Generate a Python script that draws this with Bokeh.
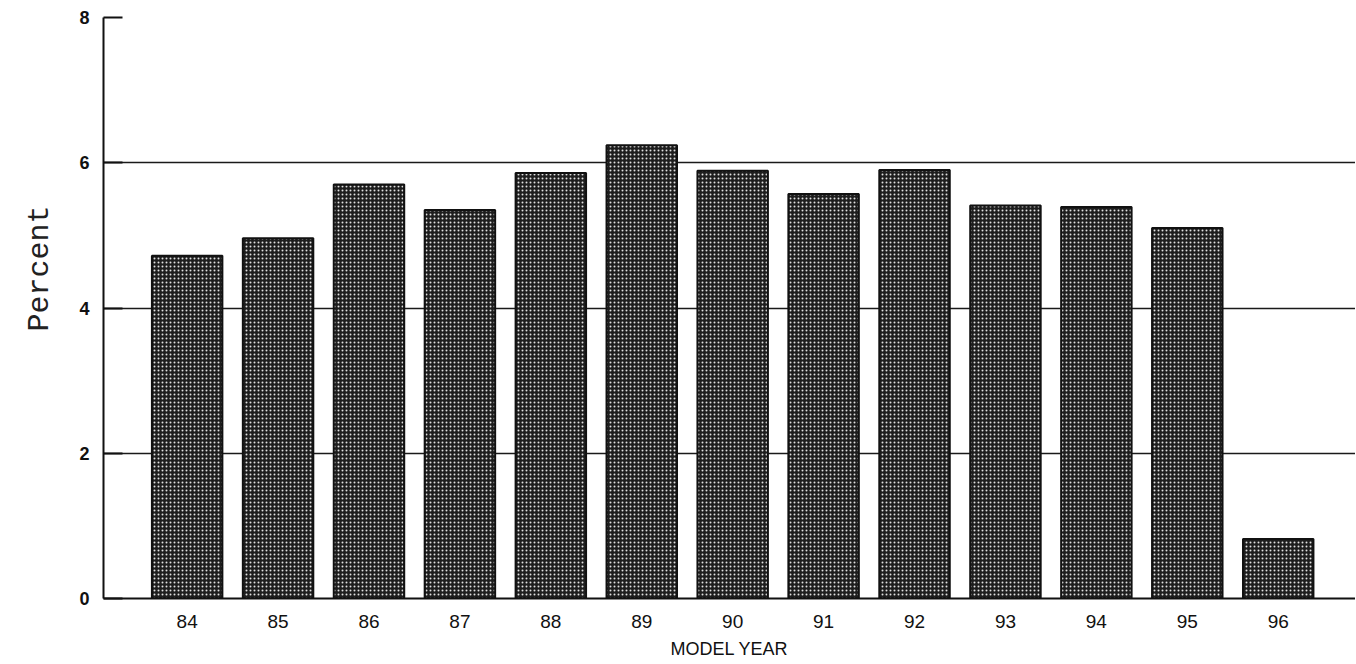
import math
from bokeh.plotting import figure
from bokeh.models import Range1d, FixedTicker, ColumnDataSource, Title
from bokeh.embed import file_html
from bokeh.resources import INLINE

# ---- data ----
model_years = ["84", "85", "86", "87", "88", "89", "90", "91", "92", "93", "94", "95", "96"]
percent = [4.72, 4.96, 5.70, 5.35, 5.86, 6.24, 5.89, 5.57, 5.90, 5.41, 5.39, 5.10, 0.82]
y_ticks = [0, 2, 4, 6, 8]
x_title = "MODEL YEAR"
y_title = "Percent"

x_pos = [int(v) for v in model_years]
src = ColumnDataSource(dict(x=x_pos, top=percent, label=model_years))

p = figure(width=1355, height=663, output_backend="svg", toolbar_location=None,
           x_range=Range1d(83.08, 96.85), y_range=Range1d(0, 8.0),
           min_border_left=103, min_border_right=0, min_border_top=17, min_border_bottom=65)

p.background_fill_color = "white"
p.border_fill_color = "white"
p.outline_line_color = None

p.vbar(x="x", top="top", bottom=0, width=0.775, source=src,
       fill_color="#1e1e1e", line_color="#111111", line_width=2,
       hatch_pattern="dot", hatch_color="#e0e0e0", hatch_scale=4, hatch_weight=1.6)

# x axis
p.xaxis.ticker = FixedTicker(ticks=x_pos)
p.xaxis.major_label_overrides = {x: lab for x, lab in zip(x_pos, model_years)}
p.xaxis.major_tick_in = 0
p.xaxis.major_tick_out = 0
p.xaxis.minor_tick_in = 0
p.xaxis.minor_tick_out = 0
p.xaxis.axis_line_color = "#111111"
p.xaxis.axis_line_width = 2
p.xaxis.major_label_text_font = "Liberation Sans"
p.xaxis.major_label_text_font_size = "19px"
p.xaxis.major_label_text_color = "#111111"
p.xaxis.major_label_standoff = 16
p.xaxis.axis_label = x_title
p.xaxis.axis_label_text_font = "Liberation Sans"
p.xaxis.axis_label_text_font_size = "18px"
p.xaxis.axis_label_text_font_style = "normal"
p.xaxis.axis_label_text_color = "#111111"
p.xaxis.axis_label_standoff = 8

# y axis
p.yaxis.ticker = FixedTicker(ticks=y_ticks)
p.yaxis.major_tick_in = 19
p.yaxis.major_tick_out = 0
p.yaxis.major_tick_line_width = 2
p.yaxis.major_tick_line_color = "#111111"
p.yaxis.minor_tick_in = 0
p.yaxis.minor_tick_out = 0
p.yaxis.axis_line_color = "#111111"
p.yaxis.axis_line_width = 2
p.yaxis.major_label_text_font = "Liberation Sans"
p.yaxis.major_label_text_font_size = "18px"
p.yaxis.major_label_text_font_style = "bold"
p.yaxis.major_label_text_color = "#111111"
p.yaxis.major_label_standoff = 14

# grid
p.xgrid.grid_line_color = None
p.ygrid.ticker = FixedTicker(ticks=y_ticks)
p.ygrid.grid_line_color = "#1a1a1a"
p.ygrid.grid_line_width = 1.3

# y title as a left-side title
p.add_layout(Title(text=y_title, align="right", offset=188, standoff=40,
                   text_font="Liberation Mono", text_font_size="30px",
                   text_font_style="normal", text_color="#222222"), "left")

open("out.html", "w").write(file_html(p, INLINE))
